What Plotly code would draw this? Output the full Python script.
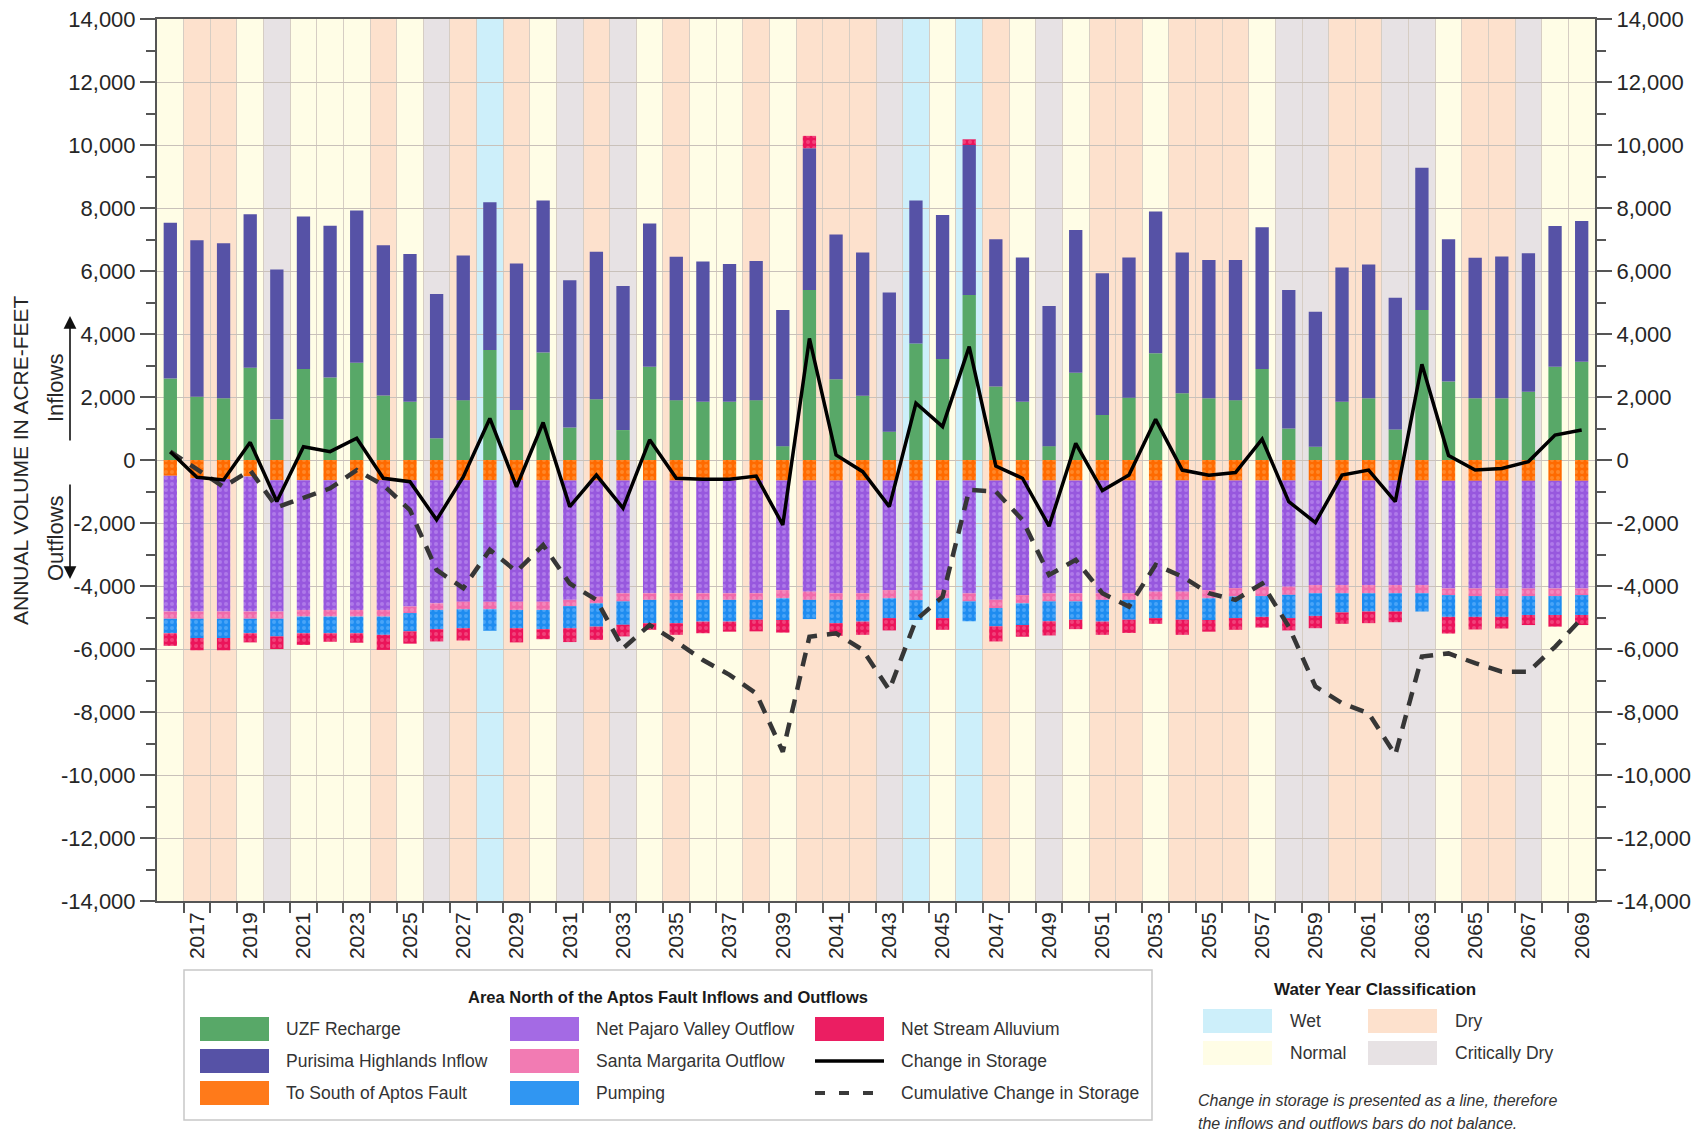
import plotly.graph_objects as go

# ---------------- data ----------------
years = list(range(2016, 2070))

water_year_class = [
    "Normal", "Dry", "Dry", "Normal", "Critically Dry", "Normal", "Normal", "Normal", "Dry", "Normal",
    "Critically Dry", "Dry", "Wet", "Dry", "Normal",
    "Critically Dry", "Dry", "Critically Dry", "Normal", "Dry", "Normal", "Normal", "Dry", "Normal", "Dry",
    "Dry", "Dry", "Critically Dry", "Wet", "Normal",
    "Wet", "Dry", "Normal", "Critically Dry", "Normal", "Dry", "Dry", "Normal", "Dry", "Dry",
    "Dry", "Normal", "Critically Dry", "Critically Dry", "Dry",
    "Dry", "Critically Dry", "Critically Dry", "Normal", "Dry", "Dry", "Critically Dry", "Normal", "Normal",
]

uzf_recharge = [
    2590, 2010, 1960, 2930, 1290, 2890, 2620, 3090, 2050, 1850, 690, 1900, 3490, 1590, 3410,
    1030, 1930, 950, 2960, 1900, 1850, 1850, 1900, 440, 5400, 2560, 2040, 900, 3700, 3210,
    5240, 2330, 1850, 440, 2770, 1430, 1980, 3390, 2120, 1960, 1900, 2890, 1000, 420, 1850,
    1960, 970, 4760, 2490, 1960, 1960, 2170, 2960, 3120,
]

purisima_highlands_inflow = [
    4940, 4970, 4920, 4870, 4760, 4840, 4820, 4830, 4770, 4690, 4580, 4590, 4690, 4650, 4830,
    4680, 4680, 4570, 4550, 4550, 4450, 4370, 4420, 4320, 4500, 4600, 4550, 4420, 4540, 4570,
    4760, 4680, 4580, 4450, 4530, 4500, 4450, 4500, 4470, 4390, 4450, 4500, 4400, 4290, 4260,
    4250, 4180, 4520, 4520, 4460, 4500, 4390, 4470, 4470,
]

to_south_of_aptos_fault = [
    -500, -580, -600, -520, -640, -640, -640, -640, -640, -640, -640, -640, -640, -640, -640,
    -650, -650, -650, -650, -650, -650, -650, -650, -650, -650, -650, -650, -650, -650, -650,
    -650, -650, -650, -650, -650, -650, -650, -650, -650, -650, -650, -650, -650, -650, -650,
    -650, -650, -650, -660, -660, -660, -660, -660, -660,
]

net_pajaro_valley_outflow = [
    -4310, -4230, -4210, -4290, -4170, -4120, -4120, -4120, -4120, -4010, -3910, -3860, -3860, -3860, -3860,
    -3790, -3690, -3580, -3580, -3580, -3580, -3580, -3580, -3480, -3530, -3580, -3580, -3480, -3480, -3480,
    -3580, -3790, -3640, -3580, -3580, -3580, -3580, -3530, -3530, -3480, -3420, -3370, -3370, -3320, -3320,
    -3320, -3320, -3320, -3420, -3420, -3420, -3420, -3420, -3420,
]

santa_margarita_outflow = [
    -230, -230, -230, -230, -230, -210, -210, -210, -210, -210, -210, -240, -240, -260, -260,
    -200, -210, -260, -210, -210, -210, -210, -210, -260, -260, -210, -210, -260, -320, -260,
    -260, -260, -260, -260, -260, -210, -210, -260, -260, -260, -260, -300, -260, -260, -260,
    -260, -260, -260, -210, -240, -240, -240, -240, -210,
]

pumping = [
    -460, -610, -610, -460, -560, -530, -530, -530, -580, -580, -610, -600, -680, -580, -610,
    -700, -740, -740, -740, -740, -690, -690, -630, -690, -610, -740, -690, -630, -630, -630,
    -630, -580, -690, -630, -580, -690, -630, -580, -630, -690, -690, -660, -740, -720, -610,
    -580, -580, -580, -690, -660, -660, -600, -600, -630,
]

# positive = inflow from stream alluvium, negative = outflow
net_stream_alluvium = [
    -400, -390, -390, -290, -400, -370, -270, -300, -480, -390, -390, -390, 0, -450, -320,
    -440, -420, -370, -210, -370, -370, -320, -370, -400, 390, -400, -420, -390, 0, -370,
    180, -480, -370, -450, -300, -420, -420, -180, -480, -370, -370, -340, -390, -390, -360,
    -370, -340, 0, -530, -400, -370, -320, -370, -320,
]

change_in_storage = [
    265, -550, -635, 560, -1320, 420, 265, 690, -580, -690, -1900, -540, 1320, -850, 1190,
    -1480, -480, -1530, 640, -580, -610, -610, -510, -2060, 3860, 160, -370, -1480, 1800, 1060,
    3600, -190, -580, -2100, 530, -970, -480, 1290, -320, -480, -400, 660, -1320, -1990, -480,
    -320, -1320, 3040, 140, -320, -270, -50, 790, 950,
]

cumulative_change_in_storage = [
    265, -300, -850, -330, -1500, -1200, -900, -320, -800, -1590, -3490, -4070, -2850, -3540, -2700,
    -3920, -4440, -5980, -5240, -5770, -6350, -6820, -7410, -9260, -5610, -5500, -6030, -7300, -5080, -4340,
    -950, -1000, -1900, -3650, -3170, -4230, -4650, -3330, -3700, -4230, -4440, -3920, -5290, -7190, -7720,
    -8040, -9360, -6240, -6140, -6450, -6720, -6720, -5930, -5030,
]

y_tick_vals = list(range(-14000, 14001, 2000))
y_tick_text = [f"{v:,}" for v in y_tick_vals]
y_minor_vals = list(range(-13000, 14000, 2000))
x_tick_years = list(range(2017, 2070, 2))

# ---------------- styling ----------------
W, H = 1700, 1134
PL, PR, PT, PB = 157, 1595, 19, 901
FONT = "Liberation Sans, Arial, Helvetica, sans-serif"
AXIS_COLOR = "#555555"
TEXT_COLOR = "#262626"

band_colors = {
    "Wet": "#CDEFFA",
    "Normal": "#FFFDE6",
    "Dry": "#FDE1CD",
    "Critically Dry": "#E7E2E4",
}


def px(x):
    return (x - PL) / (PR - PL)


def py(y):
    return (PB - y) / (PB - PT)


fig = go.Figure()


def add_bar(name, vals, color, dots=None):
    marker = dict(color=color, line=dict(width=0))
    if dots:
        marker["pattern"] = dict(shape=".", fgcolor=dots, size=6, solidity=0.35, fillmode="overlay")
    fig.add_trace(go.Bar(x=years, y=vals, name=name, marker=marker, width=0.5,
                         showlegend=False, hoverinfo="x+y+name"))


add_bar("UZF Recharge", uzf_recharge, "#58A868")
add_bar("Purisima Highlands Inflow", purisima_highlands_inflow, "#5652A6")
add_bar("To South of Aptos Fault", to_south_of_aptos_fault, "#FF6A00", "#FFA450")
add_bar("Net Pajaro Valley Outflow", net_pajaro_valley_outflow, "#9758DE", "#C59BF3")
add_bar("Santa Margarita Outflow", santa_margarita_outflow, "#F06AAA", "#F8A6CB")
add_bar("Pumping", pumping, "#1E8CF0", "#74BBFF")
add_bar("Net Stream Alluvium", net_stream_alluvium, "#EB145A", "#F7709C")

fig.add_trace(go.Scatter(x=years, y=cumulative_change_in_storage, mode="lines",
                         name="Cumulative Change in Storage",
                         line=dict(color="#363636", width=4.5, dash="14px,10px"), showlegend=False))
fig.add_trace(go.Scatter(x=years, y=change_in_storage, mode="lines", name="Change in Storage",
                         line=dict(color="black", width=3.5), showlegend=False))
# invisible companion trace so the right-hand axis is rendered
fig.add_trace(go.Scatter(x=years, y=change_in_storage, yaxis="y2", mode="lines",
                         line=dict(width=0), opacity=0, hoverinfo="skip", showlegend=False))

shapes = []
for yr, cls in zip(years, water_year_class):
    shapes.append(dict(type="rect", xref="x", yref="paper", x0=yr - 0.5, x1=yr + 0.5, y0=0, y1=1,
                       fillcolor=band_colors[cls], line=dict(width=0), layer="below"))

annotations = []

# y-axis title and inflow/outflow arrows
annotations.append(dict(xref="paper", yref="paper", x=px(20), y=0.5, text="ANNUAL VOLUME IN ACRE-FEET",
                        textangle=-90, showarrow=False, font=dict(size=21, color=TEXT_COLOR),
                        xanchor="center", yanchor="middle"))
annotations.append(dict(xref="paper", yref="paper", x=px(55), y=py(388), text="Inflows", textangle=-90,
                        showarrow=False, font=dict(size=22, color=TEXT_COLOR), xanchor="center", yanchor="middle"))
annotations.append(dict(xref="paper", yref="paper", x=px(55), y=py(538), text="Outflows", textangle=-90,
                        showarrow=False, font=dict(size=22, color=TEXT_COLOR), xanchor="center", yanchor="middle"))
annotations.append(dict(xref="paper", yref="paper", x=px(70), y=py(316), ax=0, ay=126, text="",
                        showarrow=True, arrowhead=2, arrowsize=1.6, arrowwidth=1.6, arrowcolor="#111"))
annotations.append(dict(xref="paper", yref="paper", x=px(70), y=py(579), ax=0, ay=-96, text="",
                        showarrow=True, arrowhead=2, arrowsize=1.6, arrowwidth=1.6, arrowcolor="#111"))

# ---------- legend 1 (manual) ----------
shapes.append(dict(type="rect", xref="paper", yref="paper", x0=px(184), x1=px(1152), y0=py(1120), y1=py(970),
                   line=dict(color="#C8C8C8", width=1.5), fillcolor="white", layer="above"))
annotations.append(dict(xref="paper", yref="paper", x=px(668), y=py(997),
                        text="<b>Area North of the Aptos Fault Inflows and Outflows</b>", showarrow=False,
                        font=dict(size=16.5, color="#1A1A1A"), xanchor="center", yanchor="middle"))

legend_items = [
    ("UZF Recharge", "#58A868", 200, 1029, "box"),
    ("Purisima Highlands Inflow", "#5652A6", 200, 1061, "box"),
    ("To South of Aptos Fault", "#FF7A1A", 200, 1093, "box"),
    ("Net Pajaro Valley Outflow", "#A46AE4", 510, 1029, "box"),
    ("Santa Margarita Outflow", "#F27BB3", 510, 1061, "box"),
    ("Pumping", "#3096F2", 510, 1093, "box"),
    ("Net Stream Alluvium", "#EB1E62", 815, 1029, "box"),
    ("Change in Storage", "black", 815, 1061, "line"),
    ("Cumulative Change in Storage", "#3A3A3A", 815, 1093, "dash"),
]
for label, col, x0, yc, kind in legend_items:
    if kind == "box":
        shapes.append(dict(type="rect", xref="paper", yref="paper", x0=px(x0), x1=px(x0 + 69),
                           y0=py(yc + 12), y1=py(yc - 12), fillcolor=col, line=dict(width=0), layer="above"))
    elif kind == "line":
        shapes.append(dict(type="line", xref="paper", yref="paper", x0=px(x0), x1=px(x0 + 69),
                           y0=py(yc), y1=py(yc), line=dict(color=col, width=3.5), layer="above"))
    else:
        shapes.append(dict(type="line", xref="paper", yref="paper", x0=px(x0), x1=px(x0 + 69),
                           y0=py(yc), y1=py(yc), line=dict(color=col, width=4, dash="10px,14px"), layer="above"))
    annotations.append(dict(xref="paper", yref="paper", x=px(x0 + 84), y=py(yc), text=label, showarrow=False,
                            font=dict(size=17.5, color="#333333"), xanchor="left", yanchor="middle"))

# ---------- legend 2: water year classification ----------
annotations.append(dict(xref="paper", yref="paper", x=px(1375), y=py(990),
                        text="<b>Water Year Classification</b>", showarrow=False,
                        font=dict(size=17, color="#1A1A1A"), xanchor="center", yanchor="middle"))
wy_items = [
    ("Wet", 1203, 1021),
    ("Normal", 1203, 1053),
    ("Dry", 1368, 1021),
    ("Critically Dry", 1368, 1053),
]
for label, x0, yc in wy_items:
    shapes.append(dict(type="rect", xref="paper", yref="paper", x0=px(x0), x1=px(x0 + 69),
                       y0=py(yc + 12), y1=py(yc - 12), fillcolor=band_colors[label], line=dict(width=0),
                       layer="above"))
    annotations.append(dict(xref="paper", yref="paper", x=px(x0 + 85), y=py(yc), text=label, showarrow=False,
                            font=dict(size=17.5, color="#333333"), xanchor="left", yanchor="middle"))

annotations.append(dict(xref="paper", yref="paper", x=px(1196), y=py(1100),
                        text="<i>Change in storage is presented as a line, therefore</i>", showarrow=False,
                        font=dict(size=16, color="#333333"), xanchor="left", yanchor="middle"))
annotations.append(dict(xref="paper", yref="paper", x=px(1196), y=py(1123),
                        text="<i>the inflows and outflows bars do not balance.</i>", showarrow=False,
                        font=dict(size=16, color="#333333"), xanchor="left", yanchor="middle"))

yaxis_common = dict(
    range=[-14000, 14000], tickmode="array", tickvals=y_tick_vals, ticktext=y_tick_text,
    ticks="outside", ticklen=15, tickwidth=1.5, tickcolor=AXIS_COLOR,
    showline=True, linecolor=AXIS_COLOR, linewidth=2, zeroline=False,
    tickfont=dict(size=22, color=TEXT_COLOR),
    minor=dict(tickmode="array", tickvals=y_minor_vals, ticks="outside", ticklen=9, tickwidth=1.5,
               tickcolor=AXIS_COLOR, showgrid=False),
)

fig.update_layout(
    width=W, height=H,
    margin=dict(l=PL, r=W - PR, t=PT, b=H - PB, autoexpand=False),
    barmode="relative",
    paper_bgcolor="white", plot_bgcolor="white",
    font=dict(family=FONT, size=21, color=TEXT_COLOR),
    xaxis=dict(
        range=[2015.5, 2069.5], tickmode="array", tickvals=x_tick_years,
        ticktext=[str(y) for y in x_tick_years], tickangle=-90, ticks="", showgrid=False,
        showline=True, linecolor=AXIS_COLOR, linewidth=2, mirror=True, zeroline=False,
        tickfont=dict(size=21, color=TEXT_COLOR), ticklabelstandoff=1,
        minor=dict(tickmode="array", tickvals=[y + 0.5 for y in years[:-1]], ticks="outside", ticklen=10,
                   tickwidth=1.5, tickcolor=AXIS_COLOR, showgrid=True, gridcolor="#D6CDC3", gridwidth=1),
    ),
    yaxis=dict(**yaxis_common, showgrid=True, gridcolor="#C9C1BA", gridwidth=1),
    yaxis2=dict(**yaxis_common, overlaying="y", side="right", showgrid=False),
    shapes=shapes,
    annotations=annotations,
    showlegend=False,
)

fig.write_html(
    "out.html",
    config={"displayModeBar": False},
    post_script="document.body.style.margin='0';document.body.style.padding='0';",
)
